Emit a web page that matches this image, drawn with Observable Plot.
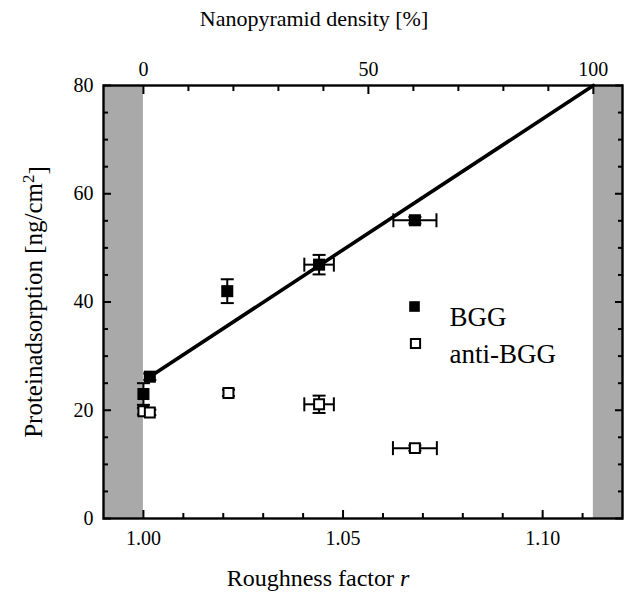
<!DOCTYPE html>
<html><head><meta charset="utf-8">
<script src="https://cdn.jsdelivr.net/npm/d3@7"></script>
<script src="https://cdn.jsdelivr.net/npm/@observablehq/plot@0.6"></script>
<style>
body{margin:0;background:#fff}
#chart svg{display:block}
</style>
</head><body><div id="chart"></div>
<script>
// ---- data ----
const bggR    = [1.000, 1.0016, 1.021, 1.044, 1.068];
const bggY    = [23.0, 26.2, 42.0, 46.9, 55.1];
const bggYErr = [2.0, 0.6, 2.2, 1.8, 0.6];
const bggRErr = [0, 0, 0, 0.0037, 0.0054];
const antiR    = [1.000, 1.0016, 1.0213, 1.044, 1.068];
const antiY    = [19.8, 19.6, 23.2, 21.1, 13.0];
const antiYErr = [0.6, 0.5, 0.6, 1.6, 0.5];
const antiRErr = [0, 0, 0, 0.0037, 0.0055];
const fitR = [1.0016, 1.1127];
const fitY = [26.2, 80];
const rDomain = [0.99, 1.12];
const yDomain = [0, 80];
const densityR = [1.000, 1.1127];      // r at 0 % and 100 % density
const rMajor = [1.00, 1.05, 1.10];
const rMinor = [1.01, 1.02, 1.03, 1.04, 1.06, 1.07, 1.08, 1.09, 1.11];
const densityMajor = [0, 50, 100];
const densityMinor = [10, 20, 30, 40, 60, 70, 80, 90];
const yMajor = [0, 20, 40, 60, 80];
const yMinor = [5, 10, 15, 25, 30, 35, 45, 50, 55, 65, 70, 75];
const seriesNames = ["BGG", "anti-BGG"];

// ---- derived tables ----
const toR = p => densityR[0] + (densityR[1] - densityR[0]) * p / 100;
const toP = r => Math.round((r - densityR[0]) / (densityR[1] - densityR[0]) * 100);
const bgg = bggR.map((r, i) => ({r, y: bggY[i], ye: bggYErr[i], re: bggRErr[i]}));
const anti = antiR.map((r, i) => ({r, y: antiY[i], ye: antiYErr[i], re: antiRErr[i]}));
const fit = fitR.map((r, i) => ({r, y: fitY[i]}));
const shades = [{x1: rDomain[0], x2: densityR[0]}, {x1: densityR[1], x2: rDomain[1]}];
const all = [...bgg, ...anti];
const withR = all.filter(d => d.re > 0);

const hCap = {draw(ctx, size) { const r = Math.sqrt(size / Math.PI); ctx.moveTo(-r, 0); ctx.lineTo(r, 0); }};
const vCap = {draw(ctx, size) { const r = Math.sqrt(size / Math.PI); ctx.moveTo(0, -r); ctx.lineTo(0, r); }};

const font = "'Liberation Serif', 'Times New Roman', Times, serif";
const ebw = 2;

const plot = Plot.plot({
  width: 624, height: 604,
  marginLeft: 103, marginRight: 2, marginTop: 85, marginBottom: 86,
  style: {fontFamily: font, fontSize: "20px", color: "#000", background: "#fff"},
  x: {domain: rDomain, axis: null},
  y: {domain: yDomain, axis: null},
  marks: [
    Plot.rect(shades, {x1: "x1", x2: "x2", y1: yDomain[0], y2: yDomain[1], fill: "#a9a9a9"}),
    Plot.line(fit, {x: "r", y: "y", stroke: "#000", strokeWidth: 3.6}),
    // error bars
    Plot.ruleX(all, {x: "r", y1: d => d.y - d.ye, y2: d => d.y + d.ye, stroke: "#000", strokeWidth: ebw}),
    Plot.dot(all, {x: "r", y: d => d.y - d.ye, symbol: hCap, r: 6.5, stroke: "#000", strokeWidth: ebw, fill: "none"}),
    Plot.dot(all, {x: "r", y: d => d.y + d.ye, symbol: hCap, r: 6.5, stroke: "#000", strokeWidth: ebw, fill: "none"}),
    Plot.ruleY(withR, {y: "y", x1: d => d.r - d.re, x2: d => d.r + d.re, stroke: "#000", strokeWidth: ebw}),
    Plot.dot(withR, {x: d => d.r - d.re, y: "y", symbol: vCap, r: 7, stroke: "#000", strokeWidth: ebw, fill: "none"}),
    Plot.dot(withR, {x: d => d.r + d.re, y: "y", symbol: vCap, r: 7, stroke: "#000", strokeWidth: ebw, fill: "none"}),
    // points
    Plot.dot(bgg, {x: "r", y: "y", symbol: "square", r: 6.8, fill: "#000", stroke: "none"}),
    Plot.dot(anti, {x: "r", y: "y", symbol: "square", r: 5.6, fill: "#fff", stroke: "#000", strokeWidth: 2}),
    // legend
    Plot.dot([seriesNames[0]], {frameAnchor: "top-left", dx: 311, dy: 221, symbol: "square", r: 6, fill: "#000"}),
    Plot.dot([seriesNames[1]], {frameAnchor: "top-left", dx: 312, dy: 258, symbol: "square", r: 5.2, fill: "#fff", stroke: "#000", strokeWidth: 2}),
    Plot.text([seriesNames[0]], {frameAnchor: "top-left", dx: 346, dy: 221, text: d => d, textAnchor: "start", fontSize: 27}),
    Plot.text([seriesNames[1]], {frameAnchor: "top-left", dx: 346, dy: 258, text: d => d, textAnchor: "start", fontSize: 27}),
    // ticks (inward)
    Plot.axisX(rMajor, {anchor: "bottom", tickSize: 8, dy: -8, fill: "none", label: null, strokeWidth: 2}),
    Plot.axisX(rMinor, {anchor: "bottom", tickSize: 5, dy: -5, fill: "none", label: null, strokeWidth: 2}),
    Plot.axisX(densityMajor.map(toR), {anchor: "top", tickSize: 8, dy: 8, fill: "none", label: null, strokeWidth: 2}),
    Plot.axisX(densityMinor.map(toR), {anchor: "top", tickSize: 5, dy: 5, fill: "none", label: null, strokeWidth: 2}),
    Plot.axisY(yMajor, {anchor: "left", tickSize: 8, dx: 8, fill: "none", label: null, strokeWidth: 2}),
    Plot.axisY(yMinor, {anchor: "left", tickSize: 5, dx: 5, fill: "none", label: null, strokeWidth: 2}),
    Plot.axisY(yMajor, {anchor: "right", tickSize: 8, dx: -8, fill: "none", label: null, strokeWidth: 2}),
    Plot.axisY(yMinor, {anchor: "right", tickSize: 5, dx: -5, fill: "none", label: null, strokeWidth: 2}),
    // tick labels
    Plot.axisX(rMajor, {anchor: "bottom", tickSize: 0, tickPadding: 12, tickFormat: d3.format(".2f"), label: null, fontSize: 20}),
    Plot.axisX(densityMajor.map(toR), {anchor: "top", tickSize: 0, tickPadding: 10, tickFormat: toP, label: null, fontSize: 20}),
    Plot.axisY(yMajor, {anchor: "left", tickSize: 0, tickPadding: 10, label: null, fontSize: 20}),
    Plot.frame({stroke: "#000", strokeWidth: 2.4})
  ]
});

document.getElementById("chart").appendChild(plot);

// axis titles with rich text
const svg = d3.select(plot);
svg.append("text")
  .attr("x", 314).attr("y", 26)
  .attr("text-anchor", "middle")
  .style("font-family", font).style("font-size", "22px")
  .text("Nanopyramid density [%]");
const xl = svg.append("text")
  .attr("x", 318).attr("y", 586)
  .attr("text-anchor", "middle")
  .style("font-family", font).style("font-size", "24px");
xl.append("tspan").text("Roughness factor ");
xl.append("tspan").style("font-style", "italic").text("r");
const yl = svg.append("text")
  .attr("transform", "translate(42,302) rotate(-90)")
  .attr("text-anchor", "middle")
  .style("font-family", font).style("font-size", "25px");
yl.append("tspan").text("Proteinadsorption [ng/cm");
yl.append("tspan").attr("dy", "-0.45em").style("font-size", "17px").text("2");
yl.append("tspan").attr("dy", "0.45em").text("]");
</script>
</body></html>
